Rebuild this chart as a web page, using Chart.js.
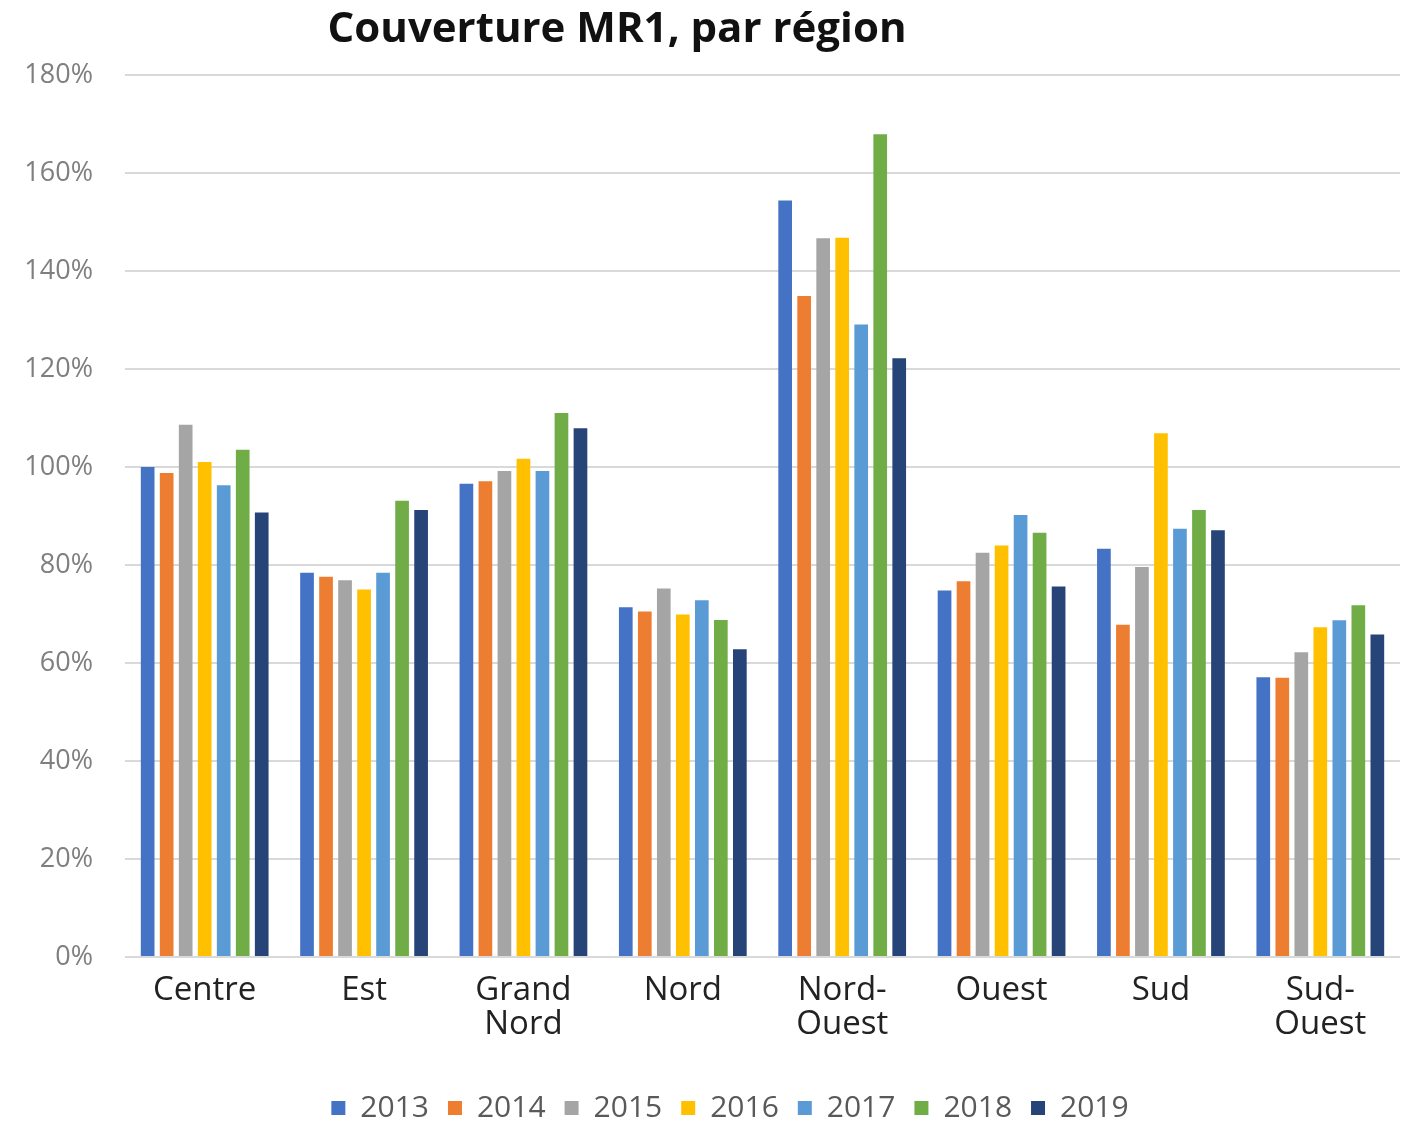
<!DOCTYPE html>
<html>
<head>
<meta charset="utf-8">
<script src="https://cdn.jsdelivr.net/npm/chart.js@4"></script>
<style>
  body { margin: 0; background: #fff; }
  #wrap { width: 1401px; height: 1123px; position: relative; }
</style>
</head>
<body>
<div id="wrap"><canvas id="mr1Chart" width="1401" height="1123"></canvas></div>
<script>
// Données (couverture en %)
const regions = ['Centre', 'Est', ['Grand', 'Nord'], 'Nord', ['Nord-', 'Ouest'], 'Ouest', 'Sud', ['Sud-', 'Ouest']];
const years = ['2013', '2014', '2015', '2016', '2017', '2018', '2019'];
const cov2013 = [100, 78.4, 96.6, 71.4, 154.4, 74.8, 83.3, 57.1];
const cov2014 = [98.8, 77.6, 97.1, 70.5, 134.9, 76.7, 67.8, 57.0];
const cov2015 = [108.6, 76.9, 99.2, 75.2, 146.7, 82.5, 79.6, 62.2];
const cov2016 = [101.0, 75.0, 101.7, 69.9, 146.8, 84.0, 106.9, 67.3];
const cov2017 = [96.3, 78.4, 99.2, 72.8, 129.1, 90.2, 87.4, 68.7];
const cov2018 = [103.5, 93.1, 111.0, 68.8, 167.9, 86.6, 91.2, 71.8];
const cov2019 = [90.7, 91.2, 107.9, 62.8, 122.2, 75.6, 87.1, 65.8];
const yTicks = [0, 20, 40, 60, 80, 100, 120, 140, 160, 180];

const seriesData = [cov2013, cov2014, cov2015, cov2016, cov2017, cov2018, cov2019];
const colors = ['#4472C4', '#ED7D31', '#A5A5A5', '#FFC000', '#5B9BD5', '#70AD47', '#264478'];

// Titre dessiné à la main (décalé à gauche comme dans l'original)
const titlePlugin = {
    id: 'leftTitle',
    afterDraw(chart) {
        const ctx = chart.ctx;
        ctx.save();
        ctx.font = 'bold 42px "Open Sans", sans-serif';
        ctx.fillStyle = '#111';
        ctx.textAlign = 'center';
        ctx.textBaseline = 'middle';
        ctx.fillText('Couverture MR1, par région', 617, 30);
        ctx.restore();
    }
};

// Légende un peu décalée vers la droite et vers le bas
const legendShift = {
    id: 'legendShift',
    afterLayout(chart) {
        const lg = chart.legend;
        if (!lg) return;
        lg.left += 30;
        lg.right += 30;
        lg.top += 10;
        lg.bottom += 10;
    }
};

const ctx = document.getElementById('mr1Chart');
new Chart(ctx, {
    type: 'bar',
    data: {
        labels: regions,
        datasets: years.map((y, i) => ({
            label: y,
            data: seriesData[i],
            backgroundColor: colors[i],
            categoryPercentage: 0.835,
            barPercentage: 0.72
        }))
    },
    options: {
        responsive: false,
        animation: false,
        layout: {
            padding: { top: 75, right: 1, left: 0, bottom: 0 }
        },
        plugins: {
            legend: {
                position: 'bottom',
                labels: {
                    boxWidth: 14,
                    boxHeight: 14,
                    padding: 19,
                    color: '#595959',
                    font: { family: 'Open Sans', size: 30 }
                }
            },
            tooltip: { enabled: false }
        },
        scales: {
            x: {
                grid: { display: false },
                border: { display: false },
                ticks: {
                    color: '#222',
                    font: { family: 'Open Sans', size: 33, lineHeight: 1.05 },
                    maxRotation: 0,
                    padding: 8
                },
                afterFit: function(scale) {
                    scale.height = 107;
                }
            },
            y: {
                min: 0,
                max: 180,
                afterBuildTicks: function(scale) {
                    scale.ticks = yTicks.map(v => ({ value: v }));
                },
                grid: { color: '#d9d9d9', lineWidth: 2, drawTicks: false },
                border: { display: false },
                ticks: {
                    color: '#7f7f7f',
                    font: { family: 'Open Sans', size: 27 },
                    padding: 32,
                    callback: function(value) {
                        return value + '%';
                    }
                },
                afterFit: function(scale) {
                    scale.width = 125;
                }
            }
        }
    },
    plugins: [titlePlugin, legendShift]
});
</script>
</body>
</html>
